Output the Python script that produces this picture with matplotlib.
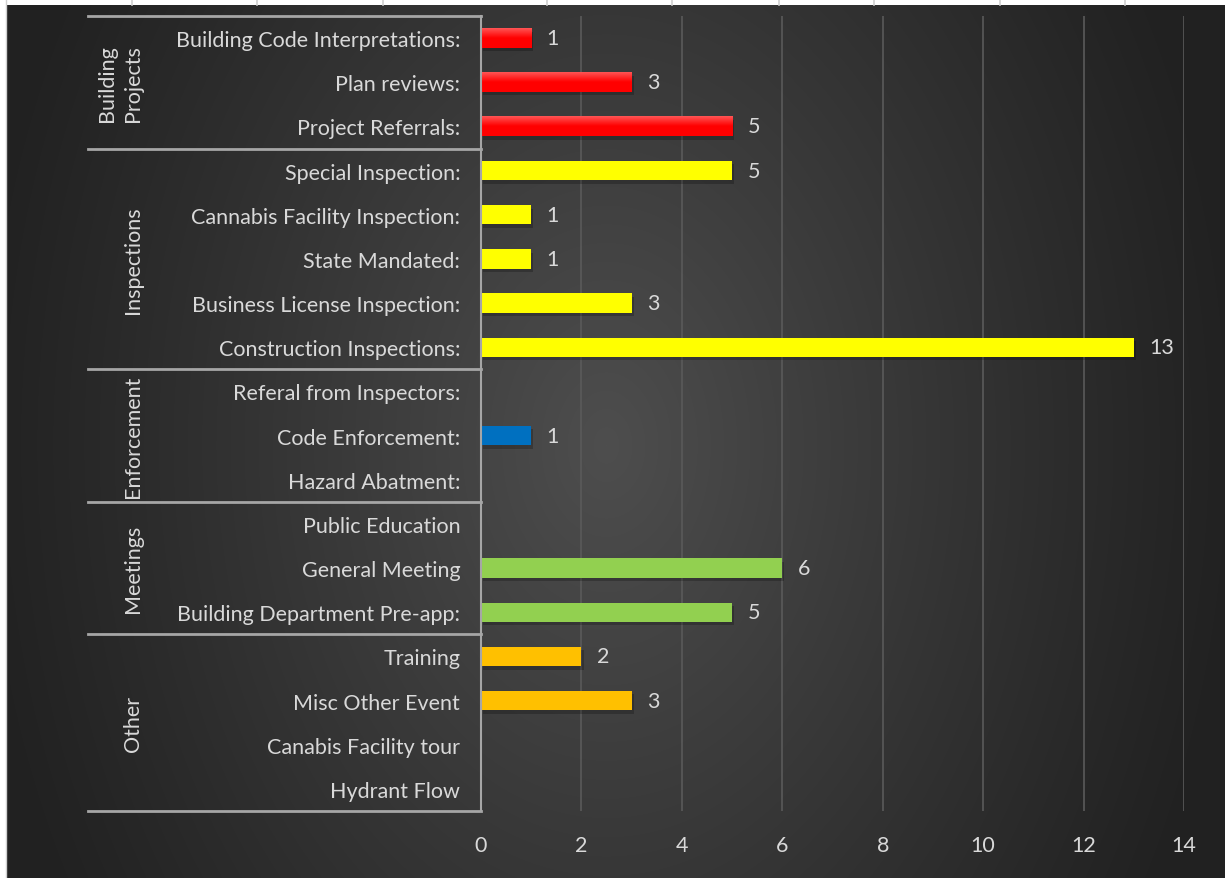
import numpy as np
import matplotlib
matplotlib.use("Agg")
import matplotlib.pyplot as plt
import matplotlib.patheffects as pe
from matplotlib.lines import Line2D

categories = [
    "Building Code Interpretations:", "Plan reviews:", "Project Referrals:",
    "Special Inspection:", "Cannabis Facility Inspection:", "State Mandated:",
    "Business License Inspection:", "Construction Inspections:",
    "Referal from Inspectors:", "Code Enforcement:", "Hazard Abatment:",
    "Public Education", "General Meeting", "Building Department Pre-app:",
    "Training", "Misc Other Event", "Canabis Facility tour", "Hydrant Flow",
]
values = [1, 3, 5, 5, 1, 1, 3, 13, None, 1, None, None, 6, 5, 2, 3, None, None]
groups = ["Building\nProjects", "Inspections", "Enforcement", "Meetings", "Other"]
group_sizes = [3, 5, 3, 3, 4]
group_colors = ["#FF0000", "#FFFF00", "#0070C0", "#92D050", "#FFC000"]
xticks = [0, 2, 4, 6, 8, 10, 12, 14]

TXT = "#d9d9d9"
FONT = "Lato"
FS = 15.5
W, H = 1225, 879

fig = plt.figure(figsize=(W / 100, H / 100), dpi=100)
fig.patch.set_facecolor("white")

# background: radial-ish dark gradient
bg = fig.add_axes([6 / W, 0, 1 - 6 / W, 1 - 6 / H])
bg.set_axis_off()
yy, xx = np.mgrid[0:873, 0:1219]
r = np.sqrt(((xx - 600) / 640.0) ** 2 + ((yy - 440) / 900.0) ** 2)
shade = 0x21 + (0x4e - 0x21) * np.clip(1 - r, 0, 1) ** 1.1
img = np.dstack([shade, shade, shade]) / 255.0
bg.imshow(img, aspect="auto", interpolation="bilinear")

# spreadsheet-like cell lines in the top white band
for xp in [132, 257, 383, 547, 672, 779, 874, 1000, 1125]:
    fig.add_artist(Line2D([xp / W, xp / W], [1 - 6 / H, 1], color="#d0d0d0", lw=1.2))
fig.add_artist(Line2D([6 / W, 6 / W], [0, 1], color="#d0d0d0", lw=1))

left, right, top, bottom = 481, 1184, 17, 812
ax = fig.add_axes([left / W, 1 - bottom / H, (right - left) / W, (bottom - top) / H])
ax.set_facecolor("none")

n = len(categories)
ypos = np.arange(n)
colors = []
for c, s in zip(group_colors, group_sizes):
    colors += [c] * s

bar_h = 0.44
shadow = [pe.SimplePatchShadow(offset=(1.5, -2.5), shadow_rgbFace="black", alpha=0.22), pe.Normal()]
for y, v, c in zip(ypos, values, colors):
    if v is None:
        continue
    b = ax.barh(y, v, height=bar_h, color=c, zorder=3)
    for p in b:
        p.set_path_effects(shadow)
    if c == "#FF0000":
        grad = np.linspace(0, 1, 50)
        tone = np.clip(grad / 0.5, 0, 1)
        rgb = np.zeros((50, 1, 3))
        rgb[:, 0, 0] = 1.0
        rgb[:, 0, 1] = 0.33 * (1 - tone)
        rgb[:, 0, 2] = 0.33 * (1 - tone)
        ax.imshow(rgb, extent=(0, v, y + bar_h / 2, y - bar_h / 2),
                  aspect="auto", zorder=4, interpolation="bilinear")
    ax.annotate(str(v), (v, y), xytext=(11, 0), textcoords="offset points",
                ha="left", va="center", color=TXT, fontsize=FS, family=FONT, zorder=5)

ax.set_xlim(0, 14)
ax.set_ylim(n - 0.5, -0.5)
ax.set_xticks(xticks)
ax.set_yticks(ypos)
ax.set_yticklabels(categories)
ax.tick_params(axis="y", length=0, pad=15, colors=TXT, labelsize=FS)
ax.tick_params(axis="x", length=0, pad=17, colors=TXT, labelsize=FS)
for lab in ax.get_xticklabels() + ax.get_yticklabels():
    lab.set_family(FONT)
ax.xaxis.grid(True, color="#5a5a5a", lw=1.2, zorder=1)
ax.set_axisbelow(True)
for s in ["top", "right", "bottom"]:
    ax.spines[s].set_visible(False)
ax.spines["left"].set_color("#a6a6a6")
ax.spines["left"].set_linewidth(1.5)
ax.spines["left"].set_zorder(6)

# category group separators
trans = ax.get_yaxis_transform()
x_box = (88 - left) / (right - left)
bounds = [-0.5]
for s in group_sizes:
    bounds.append(bounds[-1] + s)
for b in bounds:
    ax.plot([x_box, 0], [b, b], transform=trans, color="#a6a6a6", lw=2, clip_on=False, zorder=6)
for g, lo, hi in zip(groups, bounds[:-1], bounds[1:]):
    xg = (120 - left) / (right - left) if "\n" in g else (133 - left) / (right - left)
    ax.text(xg, (lo + hi) / 2, g, transform=trans, rotation=90, ha="center", va="center",
            color=TXT, fontsize=FS, family=FONT, linespacing=1.35, multialignment="left")

fig.savefig("out.png", dpi=100, facecolor=fig.get_facecolor())
